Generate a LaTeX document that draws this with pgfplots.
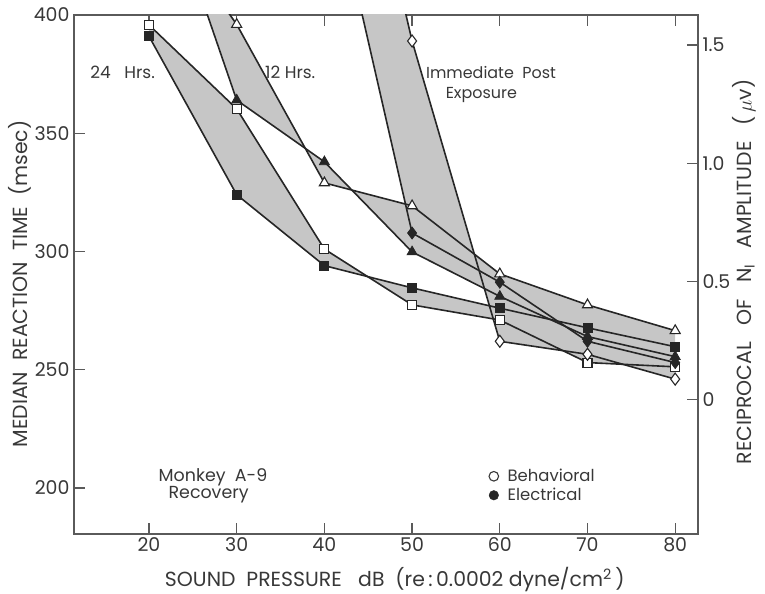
\documentclass[border=0pt]{standalone}
\usepackage{pgfplots}
\pgfplotsset{compat=1.18}
\usepackage{fontspec}
\setmainfont{Poppins}
\definecolor{bandgray}{HTML}{C6C6C6}
\definecolor{linecol}{HTML}{262626}
\definecolor{axiscol}{HTML}{5A5A5A}
\definecolor{textcol}{HTML}{383838}
\begin{document}
\begin{tikzpicture}
\pgfplotsset{
  common/.style={
    at={(0,0)}, anchor=south west, scale only axis,
    width=624bp, height=519bp,
    xmin=11.45, xmax=82.6,
    tick align=inside, major tick length=11bp,
    axis line style={draw=axiscol, line width=1.3bp},
    every tick/.style={draw=axiscol, line width=1.3bp},
    tick label style={font=\fontsize{19}{22}\selectfont, text=textcol},
    label style={font=\fontsize{20.5}{24}\selectfont, text=textcol},
    /pgf/number format/assume math mode=true,
  }
}
\begin{axis}[common,
  ymin=180.5, ymax=400,
  xtick={20,30,...,80}, ytick={200,250,...,400},
  xtick pos=both, xticklabel pos=lower, ytick pos=left,
  xlabel={SOUND\ \ PRESSURE\ \ \ dB\ \ (re\,:\,0.0002 dyne/cm\textsuperscript{2}\,)},
  xlabel style={at={(axis description cs:0.514,-0.0886)}, anchor=center},
  ylabel={MEDIAN\ \ REACTION\ \ TIME\ \ (msec)},
  ylabel style={at={(axis description cs:-0.0865,0.4817)}, anchor=center, rotate=0},
  yticklabel style={xshift=-1bp},
  legend style={at={(axis cs:58.75,208.8)}, anchor=north west, draw=none, fill=none,
     font=\fontsize{16.5}{17}\selectfont, text=textcol, row sep=1bp, inner sep=0pt,
     /tikz/every odd column/.style={column sep=7bp}},
  legend cell align=left,
  clip=true,
]
% labels under the bands
\node[text=textcol, font=\fontsize{17}{20}\selectfont] at (axis cs:17.0,375.6) {24\ \ \ Hrs.};
\node[text=textcol, font=\fontsize{17}{20}\selectfont] at (axis cs:36.1,375.6) {12 Hrs.};
\node[text=textcol, font=\fontsize{16}{20}\selectfont] at (axis cs:59.0,375.6) {Immediate\ \ Post};
\node[text=textcol, font=\fontsize{16}{20}\selectfont] at (axis cs:57.9,366.0) {Exposure};
\node[text=textcol, font=\fontsize{17.5}{20}\selectfont] at (axis cs:27.3,204.3) {Monkey\ \ A-9};
\node[text=textcol, font=\fontsize{17.5}{20}\selectfont] at (axis cs:26.8,197.0) {Recovery};

% bands
\addplot[forget plot, fill=bandgray, draw=none] coordinates {
 (20,395.8) (30,360.3) (40,301) (50,277.4) (60,271) (70,253) (80,251.2)
 (80,259.7) (70,267.7) (60,276) (50,284.6) (40,294) (30,324) (20,391)} -- cycle;
\addplot[forget plot, fill=bandgray, draw=none] coordinates {
 (20,449) (30,396) (40,329) (50,319.3) (60,290.5) (70,277.4) (80,266.5)
 (80,255.5) (70,264) (60,281) (50,299.8) (40,337.9) (30,364) (20,472)} -- cycle;
\addplot[forget plot, fill=bandgray, draw=none] coordinates {
 (40,548) (50,389) (60,262) (70,256.5) (80,246)
 (80,253) (70,262) (60,287) (50,307.8) (40,470)} -- cycle;

% lines
\pgfplotsset{ln/.style={forget plot, draw=linecol, line width=1.6bp}}
\addplot[ln, no marks] coordinates {(20,395.8) (30,360.3) (40,301) (50,277.4) (60,271) (70,253) (80,251.2)};
\addplot[ln, no marks] coordinates {(20,391) (30,324) (40,294) (50,284.6) (60,276) (70,267.7) (80,259.7)};
\addplot[ln, no marks] coordinates {(20,449) (30,396) (40,329) (50,319.3) (60,290.5) (70,277.4) (80,266.5)};
\addplot[ln, no marks] coordinates {(20,472) (30,364) (40,337.9) (50,299.8) (60,281) (70,264) (80,255.5)};
\addplot[ln, no marks] coordinates {(40,548) (50,389) (60,262) (70,256.5) (80,246)};
\addplot[ln, no marks] coordinates {(40,470) (50,307.8) (60,287) (70,262) (80,253)};

% markers
\pgfplotsset{
  openm/.style={forget plot, only marks, mark options={draw=linecol, fill=white, line width=1.1bp}},
  fillm/.style={forget plot, only marks, mark options={draw=linecol, fill=linecol, line width=0.8bp}}}
\addplot[openm, mark=square*, mark size=4.5bp] coordinates {(20,395.8) (30,360.3) (40,301) (50,277.4) (60,271) (70,253) (80,251.2)};
\addplot[fillm, mark=square*, mark size=4.5bp] coordinates {(20,391) (30,324) (40,294) (50,284.6) (60,276) (70,267.7) (80,259.7)};
\addplot[openm, mark=triangle*, mark size=5.8bp] coordinates {(30,396) (40,329) (50,319.3) (60,290.5) (70,277.4) (80,266.5)};
\addplot[fillm, mark=triangle*, mark size=5.8bp] coordinates {(30,364) (40,337.9) (50,299.8) (60,281) (70,264) (80,255.5)};
\addplot[openm, mark=diamond*, mark size=6bp] coordinates {(50,389) (60,262) (70,256.5) (80,246)};
\addplot[fillm, mark=diamond*, mark size=6bp] coordinates {(50,307.8) (60,287) (70,262) (80,253)};

\addlegendimage{only marks, mark=o, mark size=4.8bp, mark options={draw=textcol, line width=1.1bp}}
\addlegendentry{Behavioral}
\addlegendimage{only marks, mark=*, mark size=4.8bp, mark options={draw=linecol, fill=linecol}}
\addlegendentry{Electrical}
\end{axis}

\begin{axis}[common,
  ymin=-0.568, ymax=1.627,
  axis x line=none, axis y line*=right,
  ytick={0,0.5,1,1.5}, yticklabels={0,0.5,1.0,1.5},
  yticklabel style={xshift=1bp},
  ylabel={RECIPROCAL\ \ \ OF\ \ \ N\textsubscript{I}\ \ \ AMPLITUDE\ \ \ (\,$\mu$v)},
  ylabel style={at={(axis description cs:1.0737,0.505)}, anchor=center, rotate=0},
]
\end{axis}
\pgfresetboundingbox
\path[use as bounding box] (-74bp,-60bp) rectangle (691bp,534bp);
\end{tikzpicture}
\end{document}
